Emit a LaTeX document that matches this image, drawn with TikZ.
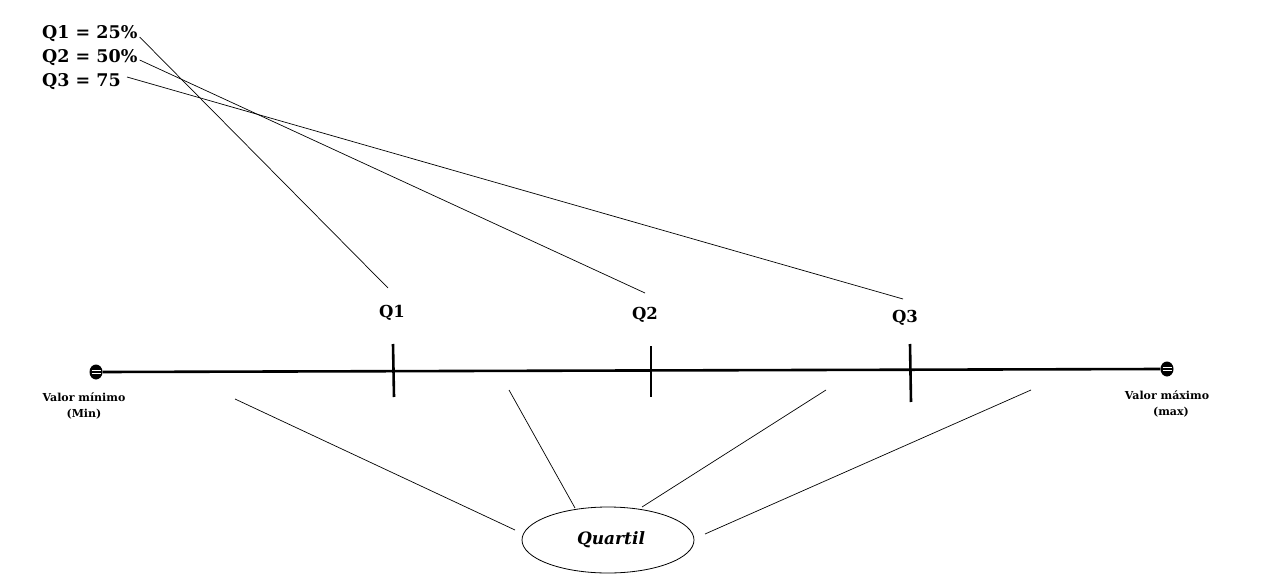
\documentclass[tikz,border=0pt]{standalone}
\usepackage{fontspec}
\setmainfont{DejaVu Serif}
\usetikzlibrary{shapes.geometric}
\begin{document}
\begin{tikzpicture}[x=1pt,y=-1pt,
  toplabel/.style={font=\fontsize{17.5}{24}\selectfont\bfseries, anchor=west, inner sep=0pt},
  qlabel/.style={font=\fontsize{16.5}{20}\selectfont\bfseries, inner sep=0pt},
  endlabel/.style={font=\fontsize{11}{16}\selectfont\bfseries, align=center, inner sep=0pt},
  thin line/.style={draw=black, line width=0.7pt},
  axis/.style={draw=black, line width=2.6pt},
  tick/.style={draw=black, line width=2.6pt},
  endcap/.style={ellipse, fill=black, minimum width=13pt, minimum height=15pt, inner sep=0pt}]
\useasboundingbox (0,0) rectangle (1277,578);
\fill[white] (0,0) rectangle (1277,578);

% top labels
\node[toplabel] (t1) at (42,34) {Q1 = 25\%};
\node[toplabel] (t2) at (42,58) {Q2 = 50\%};
\node[toplabel] (t3) at (42,82) {Q3 = 75};

% axis end points
\node[endcap] (min) at (96,372) {};
\node[endcap] (max) at (1167,369) {};
\draw[white, line width=0.8pt] ([xshift=-4.5pt,yshift=-1.5pt]min.center) -- ([xshift=4.5pt,yshift=-1.5pt]min.center)
  ([xshift=-4.5pt,yshift=1.5pt]min.center) -- ([xshift=4.5pt,yshift=1.5pt]min.center);
\draw[white, line width=0.8pt] ([xshift=-4.5pt,yshift=-1.5pt]max.center) -- ([xshift=4.5pt,yshift=-1.5pt]max.center)
  ([xshift=-4.5pt,yshift=1.5pt]max.center) -- ([xshift=4.5pt,yshift=1.5pt]max.center);
\draw[axis] (min.east) -- (max.west);

% ticks
\coordinate (q1a) at (393,344); \coordinate (q1b) at (394,397);
\coordinate (q2a) at (651,346); \coordinate (q2b) at (651,397);
\coordinate (q3a) at (910,344); \coordinate (q3b) at (911,402);
\draw[tick] (q1a) -- (q1b);
\draw[tick] (q2a) -- (q2b);
\draw[tick] (q3a) -- (q3b);

% tick labels
\node[qlabel] (Q1) at (392,313) {Q1};
\node[qlabel] (Q2) at (645,315) {Q2};
\node[qlabel] (Q3) at (905,318) {Q3};

% end labels
\node[endlabel] (minl) at (84,406) {Valor mínimo\\(Min)};
\node[endlabel] (maxl) at (1167,404) {Valor máximo\\\hspace*{8pt}(max)};

% connectors from top labels
\coordinate (c1) at (388,288);
\coordinate (c2) at (645,293);
\coordinate (c3) at (903,299);
\draw[thin line] ([xshift=2pt,yshift=-3pt]t1.east) -- (c1);
\draw[thin line] ([xshift=2pt,yshift=-2pt]t2.east) -- (c2);
\draw[thin line] ([xshift=6pt,yshift=5pt]t3.east) -- (c3);

% Quartil ellipse
\draw[line width=0.8pt] (608,540) ellipse [x radius=86, y radius=33];
\node[font=\fontsize{17}{20}\selectfont\bfseries\itshape, inner sep=0pt] (quartil) at (611,540) {Quartil};

\coordinate (b1) at (235,399);
\coordinate (b2) at (509,390);
\coordinate (b3) at (826,390);
\coordinate (b4) at (1031,390);
\coordinate (e1) at (515,530);
\coordinate (e2) at (575,508);
\coordinate (e3) at (642,507);
\coordinate (e4) at (705,534);
\draw[thin line] (b1) -- (e1);
\draw[thin line] (b2) -- (e2);
\draw[thin line] (b3) -- (e3);
\draw[thin line] (b4) -- (e4);
\end{tikzpicture}
\end{document}
